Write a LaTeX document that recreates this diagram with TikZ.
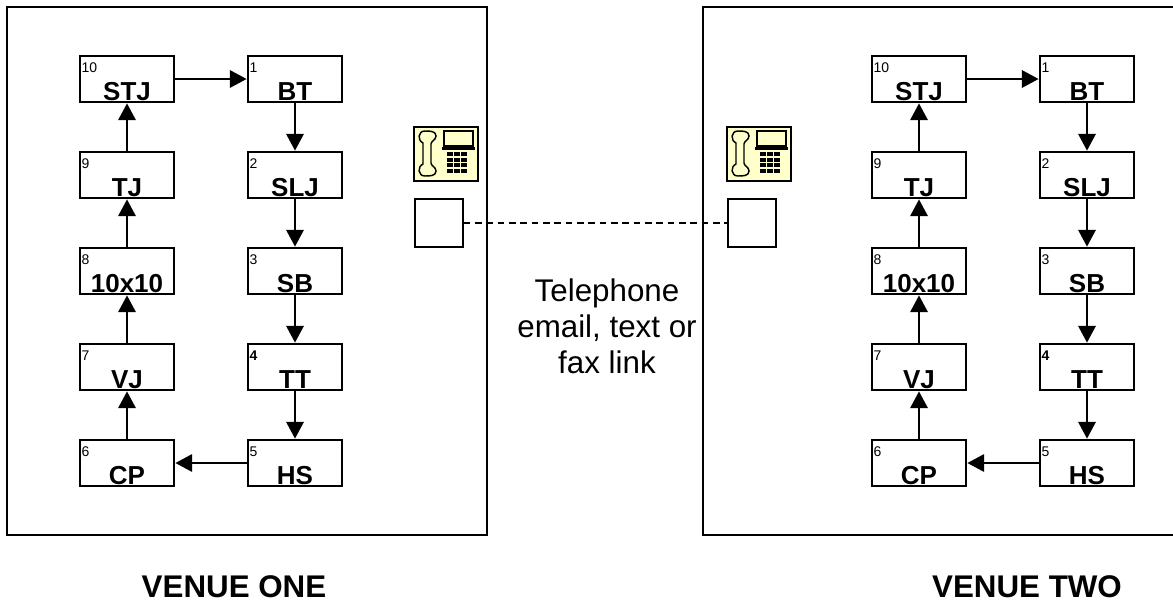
\documentclass[tikz,border=0pt]{standalone}
\usepackage{fontspec}
\setmainfont{Liberation Sans}
\usetikzlibrary{arrows.meta}

\definecolor{phonefill}{RGB}{255,255,204}

\tikzset{every picture/.style={line width=0.75pt}}
\tikzset{
  stage/.style={draw, line width=1.6pt, minimum width=71pt, minimum height=35pt, inner sep=0pt},
  num/.style={inner sep=0pt, font=\fontsize{10.5}{12}\selectfont},
  lbl/.style={inner sep=0pt, font=\fontsize{19.5}{22}\selectfont\bfseries},
  port/.style={draw, line width=1.5pt, minimum width=36pt, minimum height=36pt, inner sep=0pt},
  flow/.style={line width=1.5pt, -{Triangle[length=12.5pt,width=13pt]}},
  link/.style={line width=1pt, dash pattern=on 5pt off 3.5pt},
  venue/.style={inner sep=0pt, font=\fontsize{23.5}{27}\selectfont\bfseries},
  note/.style={inner sep=0pt, align=center, font=\fontsize{23.5}{27}\selectfont}
}

\begin{document}
\begin{tikzpicture}[x=0.75pt,y=0.75pt,yscale=-1,xscale=1]
\useasboundingbox (0,0) rectangle (1173,603);

%Shape: Rectangle [venue one]
\draw [line width=1.6pt] (7,7) rectangle (487,535);
%Shape: Rectangle [venue two, open at the right]
\draw [line width=1.6pt] (1180,7) -- (703,7) -- (703,535) -- (1180,535);

% Stage boxes of both venues
\foreach \v/\dx in {a/0,b/792}{
  \foreach \k/\cx/\cy/\n/\t in {1/295/79/1/BT, 2/295/175/2/SLJ, 3/295/271/3/SB, 4/295/367/\textbf{4}/TT, 5/295/463/5/HS,
                                 6/127/463/6/CP, 7/127/367/7/VJ, 8/127/271/8/10x10, 9/127/175/9/TJ, 10/127/79/10/STJ}{
    \node [stage] (\v\k) at (\cx+\dx,\cy) {};
    % Text Node
    \node [num, anchor=north west] (\v\k n) at (\cx+\dx-46,\cy-17) {\n};
    % Text Node
    \node [lbl, anchor=base] (\v\k t) at (\cx+\dx,\cy+21) {\t};
  }
  \foreach \s/\e in {10/1,1/2,2/3,3/4,4/5,5/6,6/7,7/8,8/9,9/10}{
    \draw [flow] (\v\s) -- (\v\e);
  }
}

% Telephone icons
\foreach \ox in {414,727}{
  \begin{scope}[shift={(\ox,127)}]
    \draw [fill=phonefill, line width=1.5pt] (0,0) rectangle (64,54);
    \draw [line width=1.1pt] (9,16) .. controls (3,13) and (4,4) .. (11,4) .. controls (16,4) and (22,4) .. (22,9)
      .. controls (22,13) and (17,14) .. (17,17) -- (17,36) .. controls (17,39) and (22,40) .. (22,44)
      .. controls (22,49) and (16,49) .. (11,49) .. controls (4,49) and (3,40) .. (9,37) -- cycle;
    \draw [line width=1.1pt] (30,4) rectangle (59,19);
    \fill (28,20) rectangle (61,23);
    \foreach \kx in {33,40,47}{
      \foreach \ky in {25,30.5,36,41.5}{
        \fill (\kx,\ky) rectangle +(5.5,4.4);
      }
    }
  \end{scope}
}

% Link boxes
\node [port] (p1) at (438.5,223) {};
\node [port] (p2) at (751.5,223) {};
%Straight Lines [dashed link]
\draw [link] (p1) -- (p2);

% Text Node
\node [note] (linktext) at (607,326) {Telephone\\email, text or\\fax link};
% Text Node
\node [venue, anchor=base] (v1) at (234,597) {VENUE ONE};
% Text Node
\node [venue, anchor=base] (v2) at (1027,597) {VENUE TWO};

\end{tikzpicture}
\end{document}
